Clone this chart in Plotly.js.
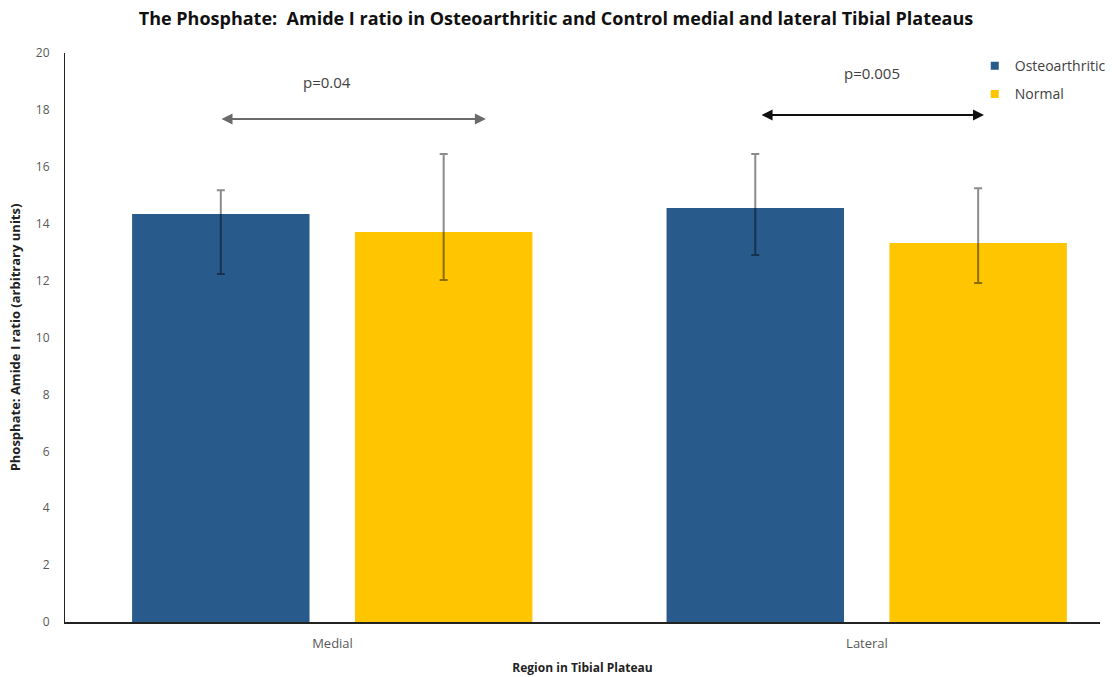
<!DOCTYPE html>
<html>
<head>
<meta charset="utf-8">
<script src="https://cdn.plot.ly/plotly-3.0.1.min.js"></script>
<style>
  html, body { margin: 0; padding: 0; background: #fff; }
  #chart { width: 1112px; height: 677px; }
</style>
</head>
<body>
<div id="chart"></div>
<script>
// Regions of the tibial plateau
const regions = ['Medial', 'Lateral'];

// Osteoarthritic group: mean ratio and error-bar ends
const oaMean = [14.34, 14.55];
const oaHigh = [15.18, 16.45];
const oaLow  = [12.23, 12.90];

// Normal (control) group: mean ratio and error-bar ends
const normMean = [13.71, 13.32];
const normHigh = [16.45, 15.25];
const normLow  = [12.02, 11.92];

// Significance labels for each region comparison
const pLabels = ['p=0.04', 'p=0.005'];

const yTicks = [0, 2, 4, 6, 8, 10, 12, 14, 16, 18, 20];

const seriesNames = ['Osteoarthritic', 'Normal'];
const seriesColors = ['#285B8B', '#FFC600'];

const up = (hi, m) => hi.map((v, i) => +(v - m[i]).toFixed(3));
const down = (lo, m) => lo.map((v, i) => +(m[i] - v).toFixed(3));

const errStyle = { color: 'rgba(0,0,0,0.45)', thickness: 2, width: 4 };

const bars = [
  { mean: oaMean, hi: oaHigh, lo: oaLow, offset: -0.375 },
  { mean: normMean, hi: normHigh, lo: normLow, offset: 0.042 }
].map((s, k) => ({
  type: 'bar', name: seriesNames[k], x: regions, y: s.mean,
  marker: { color: seriesColors[k] }, width: 0.332, offset: s.offset,
  showlegend: false,
  error_y: Object.assign({ type: 'data', symmetric: false,
    array: up(s.hi, s.mean), arrayminus: down(s.lo, s.mean) }, errStyle)
}));

// Small square legend keys
const keys = seriesNames.map((n, k) => ({
  type: 'scatter', mode: 'markers', name: n, x: [null], y: [null],
  legendgroup: 'g' + k,
  marker: { symbol: 'square', size: 8, color: seriesColors[k] }
}));

const font = '"Open Sans", "Liberation Sans", sans-serif';

// Comparison arrows spanning the two bars of each region
const arrowSpan = [[-0.2105, 0.287, 17.68, '#6a6a6a'], [0.80, 1.219, 17.82, '#111111']];
const arrows = arrowSpan.map(a => ({
  x: a[1], y: a[2], ax: a[0], ay: a[2], xref: 'x', yref: 'y', axref: 'x', ayref: 'y',
  showarrow: true, arrowhead: 2, arrowside: 'end+start', arrowsize: 1.1,
  arrowwidth: 2, arrowcolor: a[3], text: ''
}));
const pPos = [[-0.01, 18.98], [1.01, 19.3]];
const pNotes = pLabels.map((t, i) => ({
  x: pPos[i][0], y: pPos[i][1], xref: 'x', yref: 'y', text: t, showarrow: false,
  font: { family: font, size: 15, color: '#404040' }
}));

const layout = {
  width: 1112, height: 677,
  margin: { l: 65, r: 12, t: 53, b: 55, autoexpand: false },
  paper_bgcolor: '#ffffff', plot_bgcolor: '#ffffff',
  barmode: 'overlay',
  showlegend: true,
  title: {
    text: '<b>The Phosphate:  Amide I ratio in Osteoarthritic and Control medial and lateral Tibial Plateaus</b>',
    font: { family: font, size: 18, color: '#111111' },
    x: 0.5, xanchor: 'center', xref: 'container', y: 0.972, yanchor: 'middle', yref: 'container'
  },
  xaxis: {
    type: 'category', range: [-0.5005, 1.436],
    showline: true, linecolor: '#222222', linewidth: 1.5,
    ticks: '', showgrid: false, zeroline: false, ticklabelstandoff: 9,
    tickfont: { family: font, size: 13, color: '#595959' },
    title: { text: '<b>Region in Tibial Plateau</b>', standoff: 12,
      font: { family: font, size: 12, color: '#222222' } }
  },
  yaxis: {
    range: [0, 20], tickvals: yTicks, ticktext: yTicks.map(String),
    showline: true, linecolor: '#222222', linewidth: 1,
    ticks: '', showgrid: false, zeroline: false, ticklabelstandoff: 12,
    tickfont: { family: font, size: 12, color: '#595959' },
    title: { text: '<b>Phosphate: Amide I ratio (arbitrary units)</b>', standoff: 12,
      font: { family: font, size: 13, color: '#222222' } }
  },
  legend: {
    x: 0.879, y: 1.005, xanchor: 'left', yanchor: 'top',
    traceorder: 'grouped', tracegroupgap: 7,
    bgcolor: 'rgba(0,0,0,0)', itemwidth: 30,
    font: { family: font, size: 14, color: '#404040' }
  },
  annotations: arrows.concat(pNotes)
};

Plotly.newPlot('chart', bars.concat(keys), layout, { displayModeBar: false, staticPlot: true });
</script>
</body>
</html>
